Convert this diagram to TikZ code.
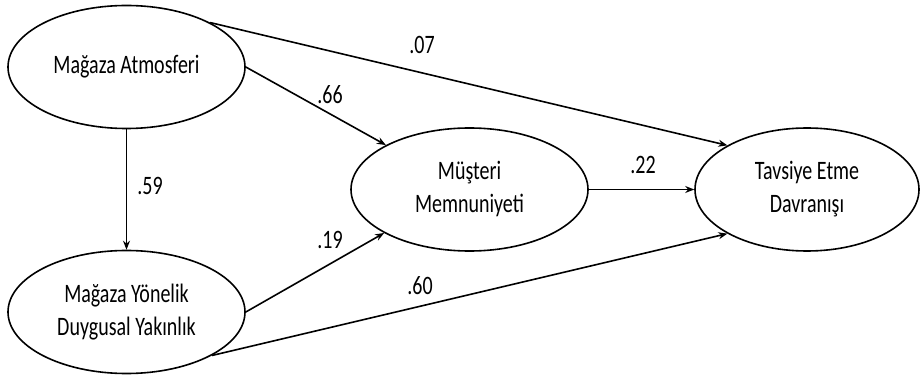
\documentclass[tikz,border=0pt]{standalone}
\usepackage{fontspec}
\setmainfont{Carlito}
\usetikzlibrary{shapes.geometric,arrows.meta}
\newcommand{\stxt}[1]{\scalebox{1}[1.33]{\begin{tabular}{@{}c@{}}#1\end{tabular}}}
\begin{document}
\begin{tikzpicture}[x=1pt,y=-1pt,
  var/.style={draw,ellipse,line width=1.6pt,inner sep=0pt,minimum width=237pt,minimum height=123pt,font=\fontsize{20}{25}\selectfont},
  path/.style={line width=1.6pt,-{Stealth[length=9pt,width=7pt]}},
  coef/.style={font=\fontsize{20}{24}\selectfont,inner sep=0pt}]
\useasboundingbox (0,0) rectangle (920,379);
\node[var] (a) at (126.5,67) {\stxt{Mağaza Atmosferi}};
\node[var] (b) at (126.5,312) {\stxt{Mağaza Yönelik\\Duygusal Yakınlık}};
\node[var] (c) at (469.5,189.5) {\stxt{Müşteri\\Memnuniyeti}};
\node[var,minimum width=224pt] (d) at (807,189.5) {\stxt{Tavsiye Etme\\Davranışı}};
\draw[path] (a.28.5) -- (d.151.4);
\draw[path] (a.east) -- (c.152.7);
\draw[path] (a.south) -- (b.north);
\draw[path] (b.east) -- (c.207.8);
\draw[path] (b.-27.1) -- (d.209.2);
\draw[path] (c.east) -- (d.west);
\node[coef] (l07) at (422,47) {\stxt{.07}};
\node[coef] (l66) at (330,97) {\stxt{.66}};
\node[coef] (l59) at (150,188) {\stxt{.59}};
\node[coef] (l19) at (330,242) {\stxt{.19}};
\node[coef] (l60) at (420,288) {\stxt{.60}};
\node[coef] (l22) at (643,167) {\stxt{.22}};
\end{tikzpicture}
\end{document}
